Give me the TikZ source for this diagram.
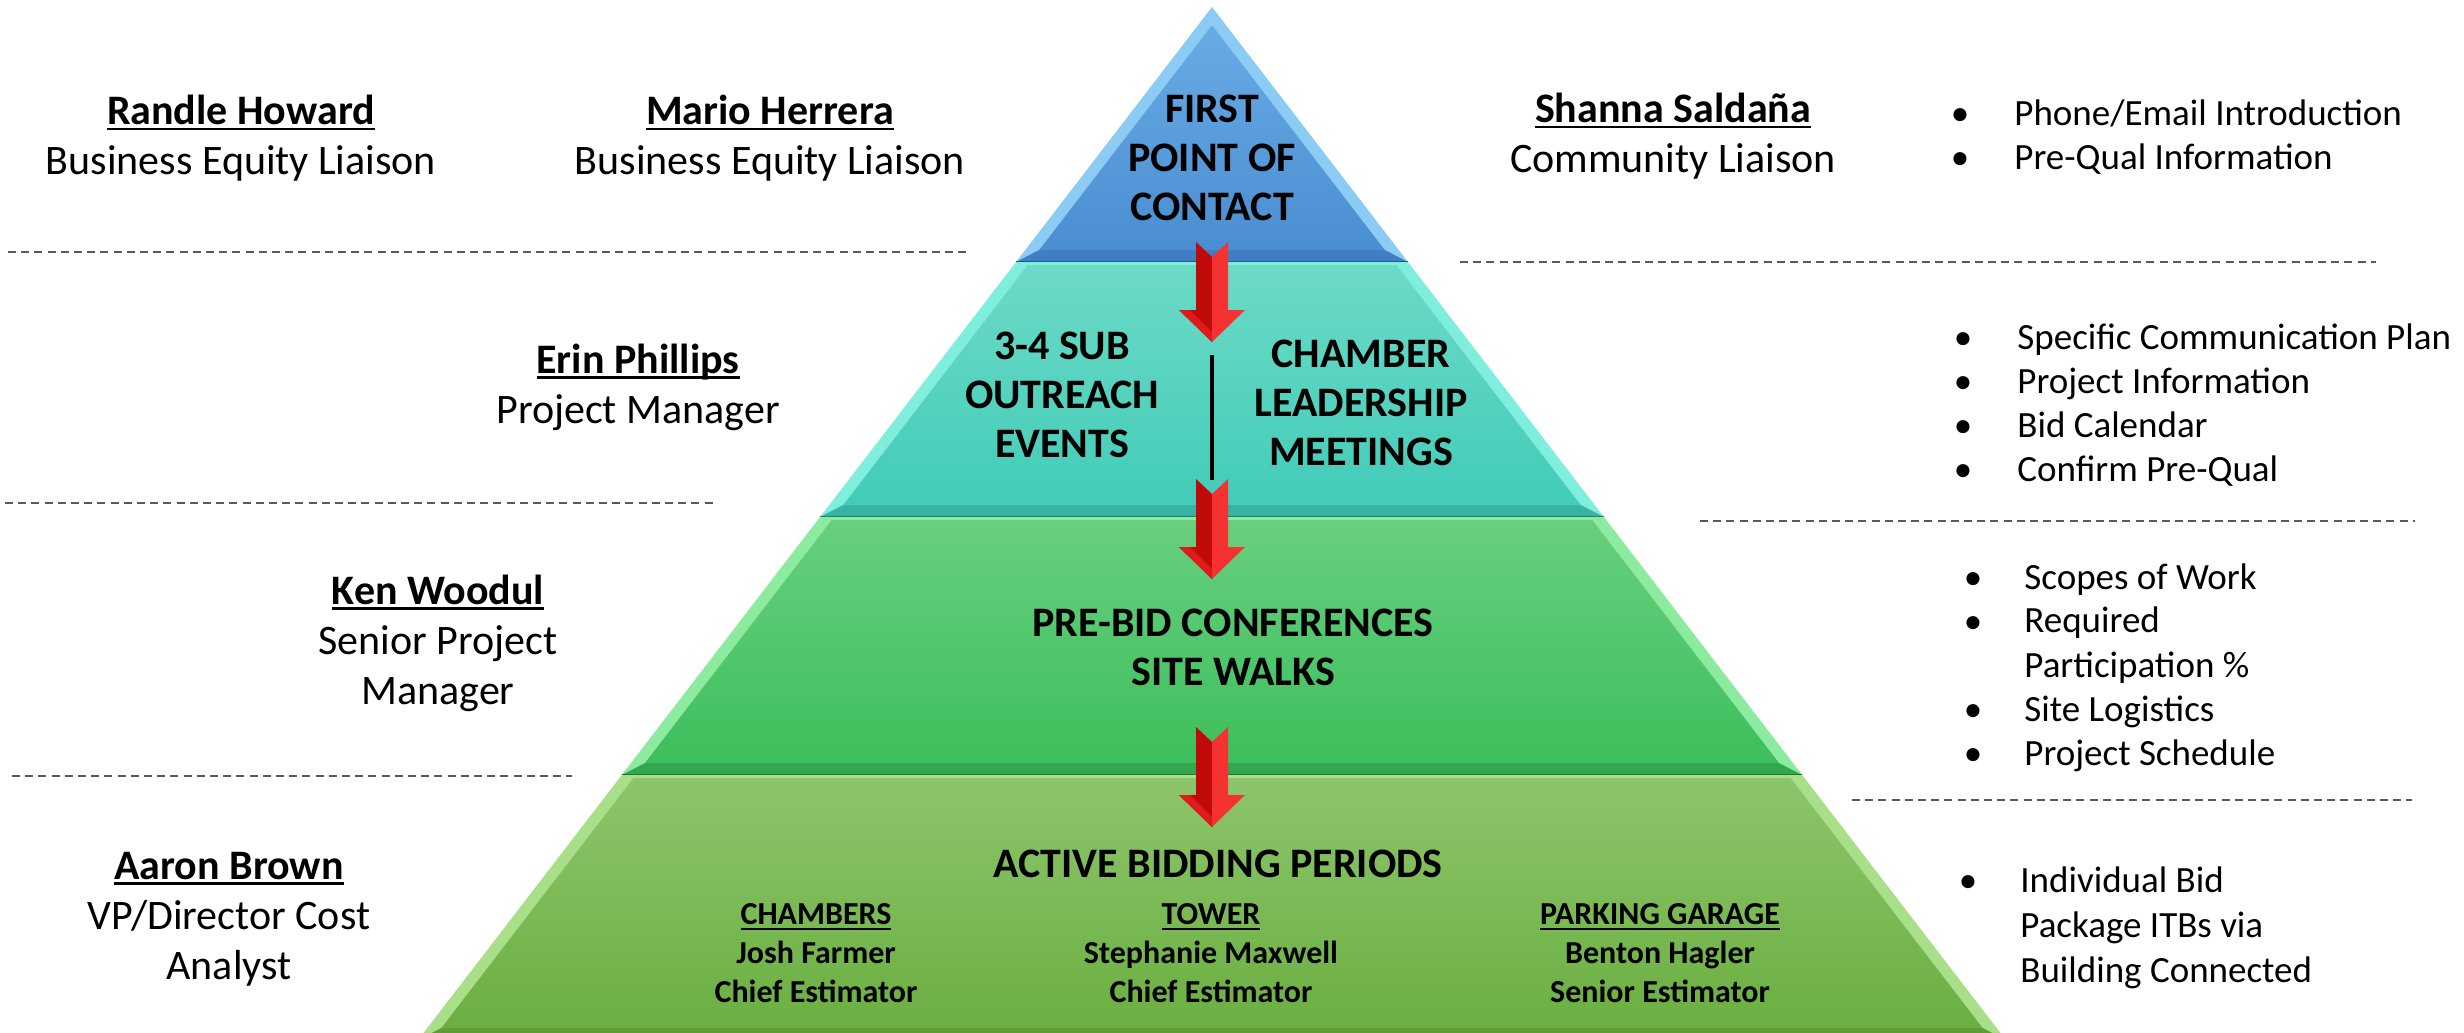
\documentclass[tikz,border=0pt]{standalone}
\usepackage{fontspec}
\setmainfont{Carlito}
\newcommand\nameul[1]{\setbox0\hbox{#1}\rlap{\rule[-3pt]{\wd0}{1.4pt}}\box0}
% tier: #1 ytop, #2 ybot, #3 inner top, #4 top colour, #5 bottom colour, #6 rim, #7 dark
\newcommand\tier[7]{%
  \pgfmathsetmacro\hwt{0.7685*(#1-7)}%
  \pgfmathsetmacro\hwb{0.7685*(#2-7)}%
  \pgfmathsetmacro\hwit{max(0.7685*(#3-7)-14,0)}%
  \pgfmathsetmacro\yib{#2-12}%
  \pgfmathsetmacro\hwib{0.7685*(\yib-7)-14}%
  \fill[#6] ({1212-\hwt},#1) -- ({1212+\hwt},#1) -- ({1212+\hwb},#2) -- ({1212-\hwb},#2) -- cycle;
  \fill[#7] ({1212-\hwib},\yib) -- ({1212+\hwib},\yib) -- ({1212+\hwb},#2) -- ({1212-\hwb},#2) -- cycle;
  \shade[top color=#4,bottom color=#5] ({1212-\hwit},#3) -- ({1212+\hwit},#3) -- ({1212+\hwib},\yib) -- ({1212-\hwib},\yib) -- cycle;
  \draw[#7!70!black,line width=1pt] ({1212-\hwb},#2) -- ({1212+\hwb},#2);
}
\newcommand\redarrow[3]{% #1 name, #2 cx, #3 top
  \coordinate (#1) at (#2,#3);
  \fill[arrowdark] ({#2-16},#3) -- (#2,{#3+15}) -- (#2,{#3+100}) -- ({#2-33},{#3+68}) -- ({#2-16},{#3+68}) -- cycle;
  \fill[arrowlight] ({#2+16},#3) -- (#2,{#3+15}) -- (#2,{#3+100}) -- ({#2+33},{#3+68}) -- ({#2+16},{#3+68}) -- cycle;
  \fill[arrowmid] ({#2-33},{#3+68}) -- ({#2-22},{#3+68}) -- (#2,{#3+90}) -- (#2,{#3+100}) -- cycle;
}
\definecolor{arrowdark}{HTML}{C00A0A}
\definecolor{arrowlight}{HTML}{F43232}
\definecolor{arrowmid}{HTML}{E01A1A}
\definecolor{dashc}{HTML}{5A5A5A}
\definecolor{b1}{HTML}{68ABE4}\definecolor{b2}{HTML}{4A8ED2}\definecolor{br}{HTML}{8CCBF4}\definecolor{bd}{HTML}{3F7EC4}
\definecolor{t1}{HTML}{6CDAC6}\definecolor{t2}{HTML}{42CCB8}\definecolor{tr}{HTML}{80EEDD}\definecolor{td}{HTML}{37B3A1}
\definecolor{g1}{HTML}{68CF7E}\definecolor{g2}{HTML}{3DBF5D}\definecolor{gr}{HTML}{8CEB9E}\definecolor{gd}{HTML}{33A64F}
\definecolor{l1}{HTML}{8CC56B}\definecolor{l2}{HTML}{6BAF41}\definecolor{lr}{HTML}{A9DF89}\definecolor{ld}{HTML}{5E9D37}
\begin{document}
\begin{tikzpicture}[x=0.5pt,y=-0.5pt,
  side/.style={align=center,font=\fontsize{21}{25}\selectfont,inner sep=0pt},
  pyrtext/.style={align=center,font=\bfseries\fontsize{21}{24.5}\selectfont,inner sep=0pt},
  smalltext/.style={align=center,font=\bfseries\fontsize{16}{19.5}\selectfont,inner sep=0pt},
  itemtext/.style={anchor=base west,align=left,font=\fontsize{18.5}{22.5}\selectfont,inner sep=0pt},
  bulletmark/.style={anchor=base,font=\fontsize{18.5}{22}\selectfont,inner sep=0pt},
  sep/.style={dashc,line width=1pt,dash pattern=on 4pt off 2.6pt}]
\useasboundingbox (0,0) rectangle (2464,1033);
\fill[white] (0,0) rectangle (2464,1033);

% pyramid tiers
\tier{7}{262}{26}{b1}{b2}{br}{bd}
\tier{262}{517}{265}{t1}{t2}{tr}{td}
\tier{517}{775}{520}{g1}{g2}{gr}{gd}
\tier{775}{1040}{778}{l1}{l2}{lr}{ld}

% dashed separators
\draw[sep] (8,252) -- (969,252);
\draw[sep] (1460,262) -- (2376,262);
\draw[sep] (5,503) -- (717,503);
\draw[sep] (1700,521) -- (2415,521);
\draw[sep] (12,776) -- (572,776);
\draw[sep] (1852,800) -- (2412,800);

% arrows and divider
\redarrow{ar1}{1212}{242}
\redarrow{ar2}{1212}{479}
\redarrow{ar3}{1212}{727}
\coordinate (v1) at (1212,355);
\coordinate (v2) at (1212,480);
\draw[line width=2pt] (v1) -- (v2);

% pyramid text
\node[pyrtext] (tone) at (1212,158) {FIRST\\POINT OF\\CONTACT};
\node[pyrtext] (ttwol) at (1062,395) {3-4 SUB\\OUTREACH\\EVENTS};
\node[pyrtext] (ttwor) at (1361,403) {CHAMBER\\LEADERSHIP\\MEETINGS};
\node[pyrtext] (tthree) at (1233,647) {PRE-BID CONFERENCES\\SITE WALKS};
\node[pyrtext] (tfour) at (1218,864) {ACTIVE BIDDING PERIODS};
\node[smalltext] (cola) at (816,953) {\nameul{CHAMBERS}\\Josh Farmer\\Chief Estimator};
\node[smalltext] (colb) at (1211,953) {\nameul{TOWER}\\Stephanie Maxwell\\Chief Estimator};
\node[smalltext] (colc) at (1660,953) {\nameul{PARKING GARAGE}\\Benton Hagler\\Senior Estimator};

% people
\node[side] (randle) at (241,138) {\textbf{\nameul{Randle Howard}}\\Business Equity Liaison};
\node[side] (mario) at (770,138) {\textbf{\nameul{Mario Herrera}}\\Business Equity Liaison};
\node[side] (shanna) at (1673,136) {\textbf{\nameul{Shanna Saldaña}}\\Community Liaison};
\node[side] (erin) at (638,387) {\textbf{\nameul{Erin Phillips}}\\Project Manager};
\node[side] (ken) at (438,643) {\textbf{\nameul{Ken Woodul}}\\Senior Project\\Manager};
\node[side] (aaron) at (229,919) {\textbf{\nameul{Aaron Brown}}\\VP/Director Cost\\Analyst};

% bullet lists
\node[bulletmark] (ba1) at (1960,125) {•};
\node[itemtext] (ia1) at (2014,125) {Phone/Email Introduction};
\node[bulletmark] (ba2) at (1960,169) {•};
\node[itemtext] (ia2) at (2014,169) {Pre-Qual Information};

\node[bulletmark] (bb1) at (1963,349) {•};
\node[itemtext] (ib1) at (2017,349) {Specific Communication Plan};
\node[bulletmark] (bb2) at (1963,393) {•};
\node[itemtext] (ib2) at (2017,393) {Project Information};
\node[bulletmark] (bb3) at (1963,437) {•};
\node[itemtext] (ib3) at (2017,437) {Bid Calendar};
\node[bulletmark] (bb4) at (1963,481) {•};
\node[itemtext] (ib4) at (2017,481) {Confirm Pre-Qual};

\node[bulletmark] (bc1) at (1973,589) {•};
\node[itemtext] (ic1) at (2024,589) {Scopes of Work};
\node[bulletmark] (bc2) at (1973,633) {•};
\node[itemtext] (ic2) at (2024,677) {Required\\Participation \%};
\node[bulletmark] (bc3) at (1973,721) {•};
\node[itemtext] (ic3) at (2024,721) {Site Logistics};
\node[bulletmark] (bc4) at (1973,765) {•};
\node[itemtext] (ic4) at (2024,765) {Project Schedule};

\node[bulletmark] (bd1) at (1968,892) {•};
\node[itemtext] (id1) at (2020,982) {Individual Bid\\Package ITBs via\\Building Connected};
\end{tikzpicture}
\end{document}
